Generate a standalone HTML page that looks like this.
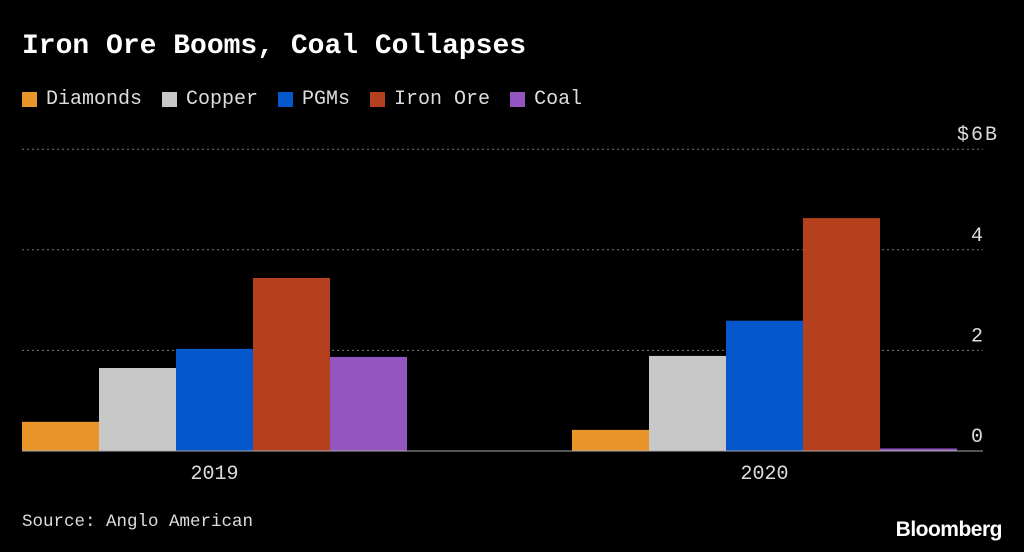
<!DOCTYPE html>
<html><head><meta charset="utf-8"><style>
body{margin:0;background:#000;width:1024px;height:552px;overflow:hidden;font-family:"Liberation Mono",monospace;color:#fff}
#title{position:absolute;left:22px;top:31px;font-size:28px;font-weight:bold}
#legend{position:absolute;left:22px;top:88px;font-size:20px;color:#ddd;display:flex}
.li{display:flex;align-items:center;margin-right:20px}
.sw{width:15px;height:15px;margin-right:9px}
#src{position:absolute;left:22px;top:512px;font-size:17.5px;color:#ddd}
#logo{position:absolute;right:22px;top:518px;font-size:21px;font-weight:bold;letter-spacing:-0.5px;font-family:"Liberation Sans",sans-serif}
svg{position:absolute;left:0;top:0}
</style></head><body>
<div id="title">Iron Ore Booms, Coal Collapses</div>
<div id="legend">
<div class="li"><div class="sw" style="background:#e8962a"></div>Diamonds</div>
<div class="li"><div class="sw" style="background:#c8c8c8"></div>Copper</div>
<div class="li"><div class="sw" style="background:#0457cc"></div>PGMs</div>
<div class="li"><div class="sw" style="background:#b5401d"></div>Iron Ore</div>
<div class="li"><div class="sw" style="background:#9356c0"></div>Coal</div>
</div>
<svg id="chart" width="1024" height="552"></svg>
<div id="src">Source: Anglo American</div>
<div id="logo">Bloomberg</div>
<script>
const categories=["2019","2020"];
const seriesNames=["Diamonds","Copper","PGMs","Iron Ore","Coal"];
const diamonds=[0.58,0.42];
const copper=[1.65,1.89];
const pgms=[2.03,2.59];
const ironOre=[3.44,4.63];
const coal=[1.87,0.05];
const ticks=[0,2,4,6];
const tickLabels=["0","2","4","$6B"];
const colors=["#e8962a","#c8c8c8","#0457cc","#b5401d","#9356c0"];
const ns="http://www.w3.org/2000/svg";
const svg=document.getElementById('chart');
const y=v=>451-v*50.3;
const groupX=[22,572], barW=77;
function mk(t,a){const e=document.createElementNS(ns,t);for(const k in a)e.setAttribute(k,a[k]);svg.appendChild(e);return e;}
ticks.forEach((t,i)=>{
 if(t>0){const l=mk('line',{x1:22,x2:983,y1:y(t),y2:y(t),stroke:'#777','stroke-dasharray':'2,3','stroke-width':1});
 
 }
 const last=i===ticks.length-1;
 const tx=mk('text',{x:last?957:983,y:y(t)-9,'text-anchor':last?'start':'end',fill:'#ddd','font-size':20,'letter-spacing':last?2:0,'font-family':'Liberation Mono'});
 tx.textContent=tickLabels[i];
 
 
});
const data=[diamonds,copper,pgms,ironOre,coal];
categories.forEach((c,ci)=>{
 data.forEach((s,si)=>{
  const r=mk('rect',{x:groupX[ci]+si*barW,y:y(s[ci]),width:barW,height:451-y(s[ci]),fill:colors[si]});
  
  
 });
 const t=mk('text',{x:groupX[ci]+barW*2.5,y:479,'text-anchor':'middle',fill:'#ddd','font-size':20,'font-family':'Liberation Mono'});
 t.textContent=c;
 
 
});
const ax=mk('line',{x1:22,x2:983,y1:451,y2:451,stroke:'#aaa','stroke-width':1});


</script>
</body></html>
